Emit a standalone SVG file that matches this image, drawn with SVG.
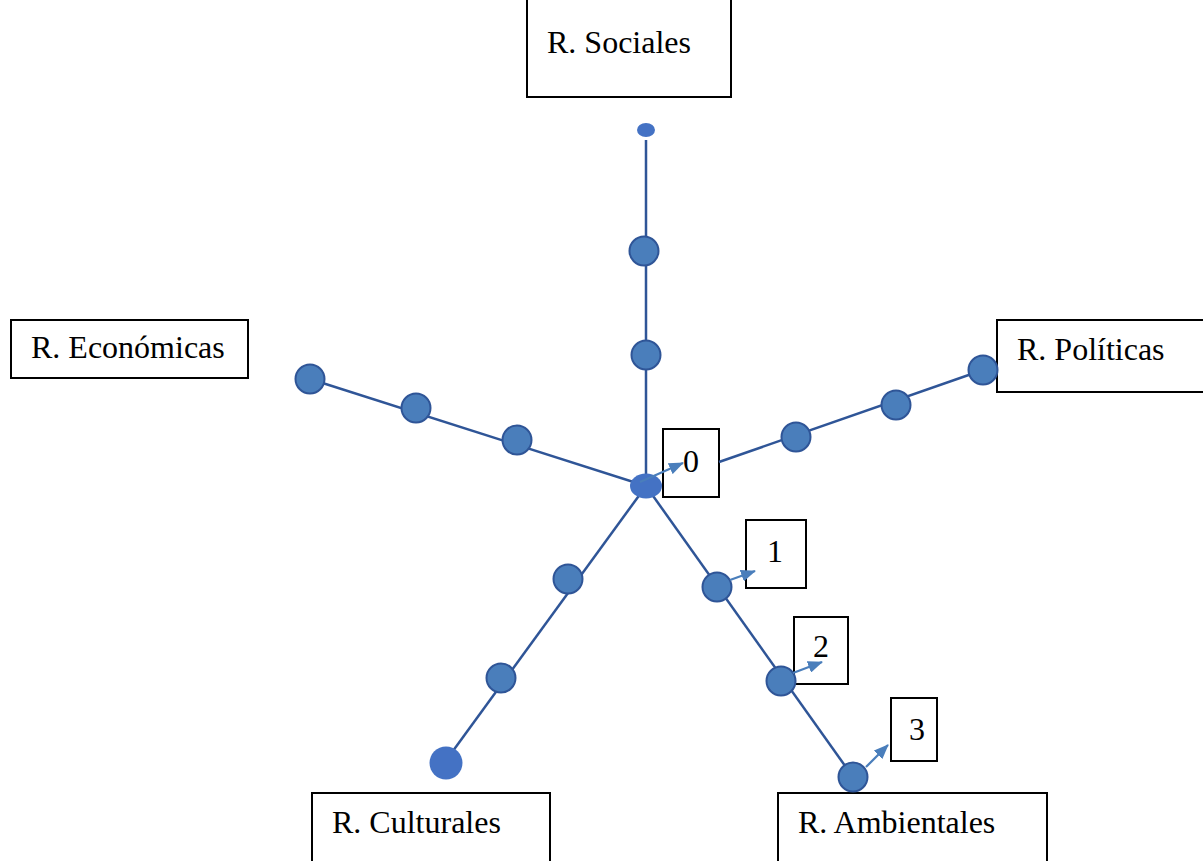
<svg xmlns="http://www.w3.org/2000/svg" width="1203" height="861" viewBox="0 0 1203 861">
<defs>
<style>
.box{fill:#fff;stroke:#000;stroke-width:2}
.t{font-family:"Liberation Serif","Times New Roman",serif;font-size:32px;fill:#000}
.ln{stroke:#2F5597;stroke-width:2.5;fill:none}
.ar{stroke:#4A7EBB;stroke-width:2.2;fill:none;marker-end:url(#ah)}
.n{fill:#4A7EBB;stroke:#2F5597;stroke-width:2}
.b{fill:#4472C4}
</style>
<marker id="ah" markerWidth="15" markerHeight="12" refX="14" refY="6" orient="auto" markerUnits="userSpaceOnUse">
<path d="M0,0 L15,6 L0,12 z" fill="#4A7EBB"/>
</marker>
</defs>
<rect width="1203" height="861" fill="#fff"/>
<g id="node-sociales"><rect class="box" x="527" y="-2" width="204" height="99"/><text class="t" x="547" y="53">R. Sociales</text></g>
<g id="node-economicas"><rect class="box" x="11" y="320" width="237" height="58"/><text class="t" x="31" y="358">R. Económicas</text></g>
<g id="node-politicas"><rect class="box" x="997" y="320" width="208" height="72"/><text class="t" x="1017" y="360">R. Políticas</text></g>
<g id="node-culturales"><rect class="box" x="312" y="793" width="238" height="72"/><text class="t" x="332" y="833">R. Culturales</text></g>
<g id="node-ambientales"><rect class="box" x="778" y="793" width="269" height="72"/><text class="t" x="798" y="833">R. Ambientales</text></g>
<g id="node-0"><rect class="box" x="663" y="429" width="56" height="68"/><text class="t" x="683" y="472">0</text></g>
<g id="node-1"><rect class="box" x="746" y="520" width="60" height="68"/><text class="t" x="767" y="562">1</text></g>
<g id="node-2"><rect class="box" x="794" y="617" width="54" height="67"/><text class="t" x="813" y="657">2</text></g>
<g id="node-3"><rect class="box" x="891" y="698" width="46" height="63"/><text class="t" x="909" y="740">3</text></g>
<g id="connectors">
<line class="ln" x1="646" y1="140" x2="646" y2="486"/>
<line class="ln" x1="310" y1="379" x2="646" y2="486"/>
<line class="ln" x1="719" y1="462" x2="983" y2="370"/>
<line class="ln" x1="646" y1="486" x2="450" y2="755"/>
<line class="ln" x1="646" y1="486" x2="853" y2="777"/>
</g>
<g id="points">
<ellipse class="b" cx="646" cy="130" rx="9" ry="7"/>
<circle class="n" cx="644" cy="251" r="14.5"/>
<circle class="n" cx="646" cy="355" r="14.5"/>
<circle class="n" cx="310" cy="379" r="14.5"/>
<circle class="n" cx="416" cy="408" r="14.5"/>
<circle class="n" cx="517" cy="440" r="14.5"/>
<circle class="n" cx="796" cy="437" r="14.5"/>
<circle class="n" cx="896" cy="405" r="14.5"/>
<circle class="n" cx="983" cy="370" r="14.5"/>
<circle class="n" cx="568" cy="579" r="14.5"/>
<circle class="n" cx="501" cy="678" r="14.5"/>
<circle class="b" cx="446" cy="763" r="16.5"/>
<circle class="n" cx="717" cy="587" r="14.5"/>
<circle class="n" cx="781" cy="681" r="14.5"/>
<circle class="n" cx="853" cy="777" r="14.5"/>
<ellipse class="b" cx="646" cy="486" rx="16" ry="12.5"/>
</g>
<g id="arrows">
<line class="ar" x1="640" y1="482" x2="683" y2="463"/>
<line class="ar" x1="730" y1="580" x2="755" y2="571"/>
<line class="ar" x1="793" y1="673" x2="822" y2="662"/>
<line class="ar" x1="866" y1="767" x2="888" y2="745"/>
</g>
</svg>
